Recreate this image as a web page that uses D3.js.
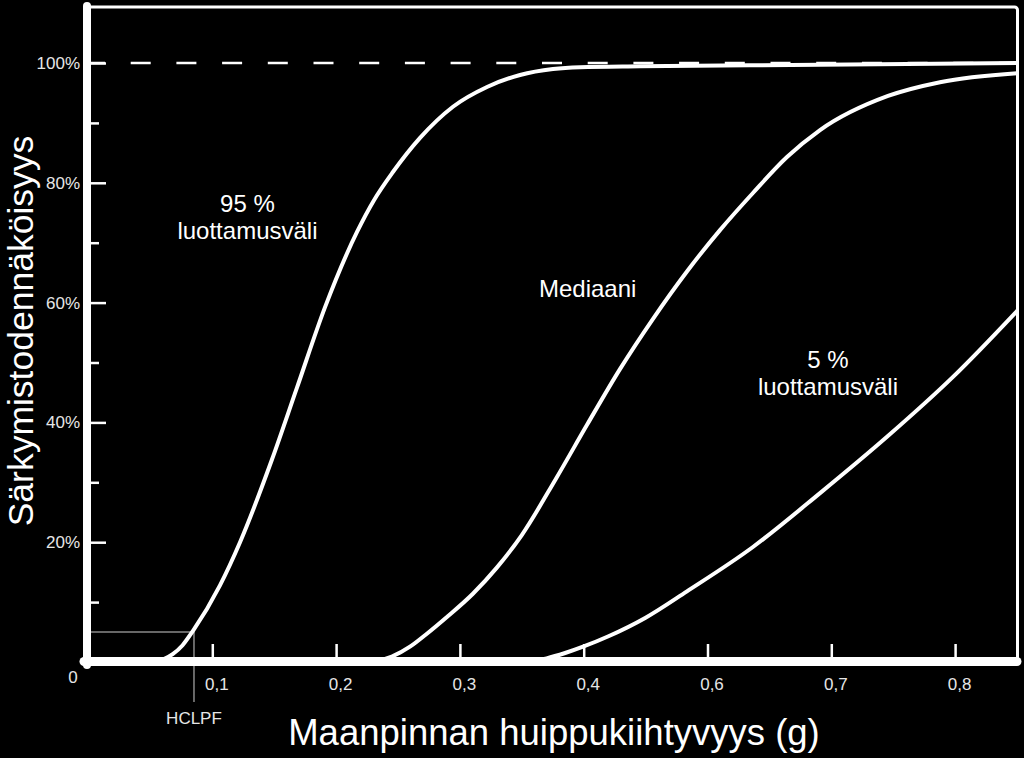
<!DOCTYPE html>
<html>
<head>
<meta charset="utf-8">
<script src="https://cdn.jsdelivr.net/npm/d3@7"></script>
<style>
  html, body { margin: 0; padding: 0; background: #000; }
  svg { display: block; }
  text { font-family: "Liberation Sans", Arial, sans-serif; }
</style>
</head>
<body>
<svg id="chart" width="1024" height="758"></svg>
<script>
// ---- data ----
const xTickValues = [0.1, 0.2, 0.3, 0.4, 0.5, 0.6, 0.7];
const xTickLabels = ["0,1", "0,2", "0,3", "0,4", "0,6", "0,7", "0,8"];
const yTickValues = [20, 40, 60, 80, 100];
const yTickLabels = ["20%", "40%", "60%", "80%", "100%"];
const yMinorTickValues = [10, 30, 50, 70, 90];

// fragility curves: [pga (g), probability of failure (%)]
const curve95 = [[0.052,0],[0.060,0.4],[0.068,1.3],[0.076,2.8],[0.0844,5.2],[0.1062,12.8],[0.1224,20.0],[0.1482,33.8],[0.1684,45.8],[0.1910,59.2],[0.2169,71.8],[0.2306,77.1],[0.2459,81.8],[0.2678,87.5],[0.2944,92.7],[0.3219,96.0],[0.3486,98.0],[0.3752,99.0],[0.3970,99.3],[0.4455,99.45],[0.5909,99.7],[0.75,100]];
const curveMedian = [[0.229,0],[0.245,0.9],[0.26,2.6],[0.2726,4.6],[0.29,7.6],[0.3105,11.4],[0.33,15.8],[0.35,21.2],[0.3776,30.6],[0.4027,39.6],[0.4293,48.9],[0.456,57.3],[0.4834,65.2],[0.5101,72.1],[0.5367,78.3],[0.5642,84.3],[0.5909,88.8],[0.6458,94.5],[0.6878,96.8],[0.75,98.3]];
const curve5 = [[0.355,0],[0.37,0.6],[0.385,1.5],[0.40,2.6],[0.42,4.3],[0.45,7.4],[0.4834,11.8],[0.5367,19.2],[0.5909,28.2],[0.645,37.6],[0.6983,47.6],[0.75,58.6]];

const hclpfValue = [0.0852, 5];
const curveLabels = [
  { lines: ["95 %", "luottamusväli"], at: [0.1284, 75.1] },
  { lines: ["Mediaani"], at: [0.4032, 61.0] },
  { lines: ["5 %", "luottamusväli"], at: [0.5973, 49.1] }
];
const xTitle = "Maanpinnan huippukiihtyvyys (g)";
const yTitle = "Särkymistodennäköisyys";

// ---- scales ----
const svg = d3.select("#chart");
const x = d3.scaleLinear().domain([0, 0.75]).range([88.5, 1017]);
const y = d3.scaleLinear().domain([0, 100]).range([662, 63]);

svg.append("rect").attr("width", 1024).attr("height", 758).attr("fill", "#000");

// clip
svg.append("clipPath").attr("id", "plotclip")
  .append("rect").attr("x", 90).attr("y", 8).attr("width", 927).attr("height", 654);

// frame (top and right thin border)
svg.append("rect")
  .attr("x", 87).attr("y", 7).attr("width", 930.5).attr("height", 654)
  .attr("rx", 3)
  .attr("fill", "none").attr("stroke", "#fff").attr("stroke-width", 3);

// 100% dashed reference line
svg.append("line")
  .attr("x1", 91).attr("x2", x(0.75)).attr("y1", y(100)).attr("y2", y(100))
  .attr("stroke", "#fff").attr("stroke-width", 2.5)
  .attr("stroke-dasharray", "20 25.7").attr("stroke-dashoffset", 6);

// HCLPF guide lines
svg.append("line")
  .attr("x1", 91).attr("x2", x(hclpfValue[0]))
  .attr("y1", y(hclpfValue[1])).attr("y2", y(hclpfValue[1]))
  .attr("stroke", "#8a8a8a").attr("stroke-width", 1.5);
svg.append("line")
  .attr("x1", x(hclpfValue[0])).attr("x2", x(hclpfValue[0]))
  .attr("y1", y(hclpfValue[1])).attr("y2", 702)
  .attr("stroke", "#8a8a8a").attr("stroke-width", 1.5);
svg.append("text")
  .attr("x", x(hclpfValue[0])).attr("y", 724)
  .attr("text-anchor", "middle").attr("font-size", 17).attr("fill", "#e6e6e6")
  .text("HCLPF");

// curves
const line = d3.line().x(d => x(d[0])).y(d => y(d[1])).curve(d3.curveMonotoneX);
const gCurves = svg.append("g").attr("clip-path", "url(#plotclip)");
[curve95, curveMedian, curve5].forEach(c => {
  gCurves.append("path").attr("d", line(c))
    .attr("fill", "none").attr("stroke", "#fff").attr("stroke-width", 4)
    .attr("stroke-linecap", "round");
});

// axis bands (thick left & bottom)
svg.append("line").attr("x1", 87).attr("x2", 87).attr("y1", 6).attr("y2", 665)
  .attr("stroke", "#fff").attr("stroke-width", 8).attr("stroke-linecap", "round");
svg.append("line").attr("x1", 84).attr("x2", 1017).attr("y1", 661.5).attr("y2", 661.5)
  .attr("stroke", "#fff").attr("stroke-width", 9).attr("stroke-linecap", "round");

// x axis
const xAxis = d3.axisBottom(x)
  .tickValues(xTickValues)
  .tickFormat((d, i) => xTickLabels[i])
  .tickSizeInner(-13).tickSizeOuter(0).tickPadding(21);
const gx = svg.append("g").attr("transform", "translate(0,657)").call(xAxis);
gx.select(".domain").remove();
gx.selectAll(".tick line").attr("stroke", "#fff").attr("stroke-width", 2.5);
gx.selectAll(".tick text").attr("fill", "#e6e6e6").attr("font-size", 17)
  .attr("dx", 4)
  .attr("font-family", "'Liberation Sans', Arial, sans-serif");

// "0" origin label
svg.append("text").attr("x", 73).attr("y", 683)
  .attr("text-anchor", "middle").attr("font-size", 17).attr("fill", "#e6e6e6")
  .text("0");

// y axis major
const yAxis = d3.axisLeft(y)
  .tickValues(yTickValues)
  .tickFormat((d, i) => yTickLabels[i])
  .tickSizeInner(-15).tickSizeOuter(0).tickPadding(11);
const gy = svg.append("g").attr("transform", "translate(91,0)").call(yAxis);
gy.select(".domain").remove();
gy.selectAll(".tick line").attr("stroke", "#fff").attr("stroke-width", 2.5);
gy.selectAll(".tick text").attr("fill", "#e6e6e6").attr("font-size", 17)
  .attr("font-family", "'Liberation Sans', Arial, sans-serif");

// y axis minor
const yMinor = d3.axisLeft(y)
  .tickValues(yMinorTickValues).tickFormat("")
  .tickSizeInner(-8).tickSizeOuter(0);
const gym = svg.append("g").attr("transform", "translate(91,0)").call(yMinor);
gym.select(".domain").remove();
gym.selectAll(".tick line").attr("stroke", "#fff").attr("stroke-width", 2.5);

// curve labels
curveLabels.forEach(l => {
  const t = svg.append("text")
    .attr("x", x(l.at[0])).attr("y", y(l.at[1]))
    .attr("text-anchor", "middle").attr("font-size", 24).attr("fill", "#fff");
  l.lines.forEach((s, i) => {
    t.append("tspan").attr("x", x(l.at[0])).attr("dy", i === 0 ? 0 : 27).text(s);
  });
});

// axis titles
svg.append("text")
  .attr("x", 554).attr("y", 745)
  .attr("text-anchor", "middle").attr("font-size", 36.5).attr("fill", "#fff")
  .text(xTitle);
svg.append("text")
  .attr("transform", "translate(33,331) rotate(-90)")
  .attr("text-anchor", "middle").attr("font-size", 35.5).attr("fill", "#fff")
  .text(yTitle);
</script>
</body>
</html>
